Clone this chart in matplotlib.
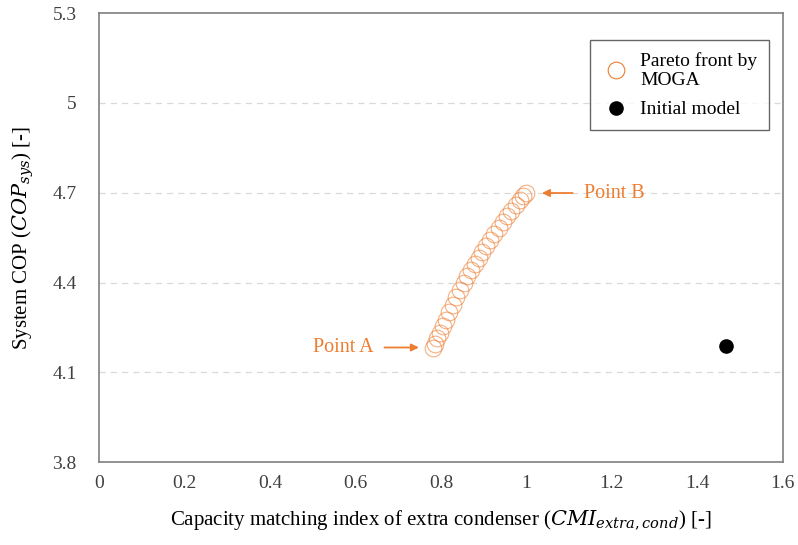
import matplotlib
matplotlib.use("Agg")
import matplotlib.pyplot as plt
from matplotlib.ticker import FuncFormatter

# Pareto front (MOGA)
pareto_cmi = [0.781, 0.786, 0.792, 0.798, 0.805, 0.812, 0.820, 0.828, 0.836,
              0.845, 0.853, 0.862, 0.870, 0.879, 0.888, 0.897, 0.906, 0.916,
              0.925, 0.935, 0.945, 0.955, 0.965, 0.975, 0.985, 0.993, 1.000]
pareto_cop = [4.180, 4.196, 4.214, 4.233, 4.254, 4.276, 4.301, 4.326, 4.350,
              4.376, 4.399, 4.421, 4.441, 4.462, 4.482, 4.502, 4.522, 4.543,
              4.562, 4.582, 4.602, 4.621, 4.640, 4.658, 4.675, 4.688, 4.699]

# initial model
init_cmi = [1.466]
init_cop = [4.189]

x_ticks = [0, 0.2, 0.4, 0.6, 0.8, 1, 1.2, 1.4, 1.6]
y_ticks = [3.8, 4.1, 4.4, 4.7, 5.0, 5.3]

ORANGE = "#ED7D31"

plt.rcParams["font.family"] = ["Liberation Serif", "DejaVu Serif"]
plt.rcParams["mathtext.fontset"] = "custom"
plt.rcParams["mathtext.rm"] = "DejaVu Serif"
plt.rcParams["mathtext.it"] = "DejaVu Serif:italic"

fig = plt.figure(figsize=(7.98, 5.45), dpi=100)
ax = fig.add_axes([0.124, 0.152, 0.857, 0.824])

ax.plot(pareto_cmi, pareto_cop, "o", ms=12, mfc="none", mec=ORANGE,
        mew=0.8, alpha=0.6, label="Pareto front by\nMOGA", zorder=3)
ax.plot(init_cmi, init_cop, "o", ms=9.5, color="black", label="Initial model",
        zorder=3)

ax.set_xlim(0, 1.6)
ax.set_ylim(3.8, 5.3)
ax.set_xticks(x_ticks)
ax.set_yticks(y_ticks)
fmt = FuncFormatter(lambda v, p: f"{v:g}")
ax.xaxis.set_major_formatter(fmt)
ax.yaxis.set_major_formatter(fmt)
ax.tick_params(length=0, labelsize=14, colors="#404040", pad=9)
ax.tick_params(axis="y", pad=16)

for y in y_ticks[1:-1]:
    ax.axhline(y, color="#D9D9D9", lw=0.9, ls=(0, (5, 4)), zorder=1)

for s in ax.spines.values():
    s.set_color("#7F7F7F")
    s.set_linewidth(1.2)

ax.set_xlabel("Capacity matching index of extra condenser ($CMI_{extra,cond}$) [-]",
              fontsize=15, labelpad=12)
ax.set_ylabel("System COP ($COP_{sys}$) [-]", fontsize=15, labelpad=12)

ax.annotate("Point A", xy=(0.755, 4.183), xytext=(0.571, 4.183),
            ha="center", va="center", fontsize=14.5, color=ORANGE,
            arrowprops=dict(arrowstyle="-|>", color=ORANGE, lw=1.3,
                            mutation_scale=11, shrinkA=6))
ax.annotate("Point B", xy=(1.030, 4.699), xytext=(1.205, 4.699),
            ha="center", va="center", fontsize=14.5, color=ORANGE,
            arrowprops=dict(arrowstyle="-|>", color=ORANGE, lw=1.3,
                            mutation_scale=11, shrinkA=6))

leg = ax.legend(loc="upper right", bbox_to_anchor=(0.98, 0.94), fontsize=14,
                frameon=True, fancybox=False, edgecolor="#404040",
                borderaxespad=0, borderpad=0.6, handletextpad=0.5,
                labelspacing=0.6, handlelength=1.5)
leg.get_frame().set_linewidth(1.0)
for h in leg.legend_handles:
    h.set_alpha(1)

fig.savefig("out.png", dpi=100)
